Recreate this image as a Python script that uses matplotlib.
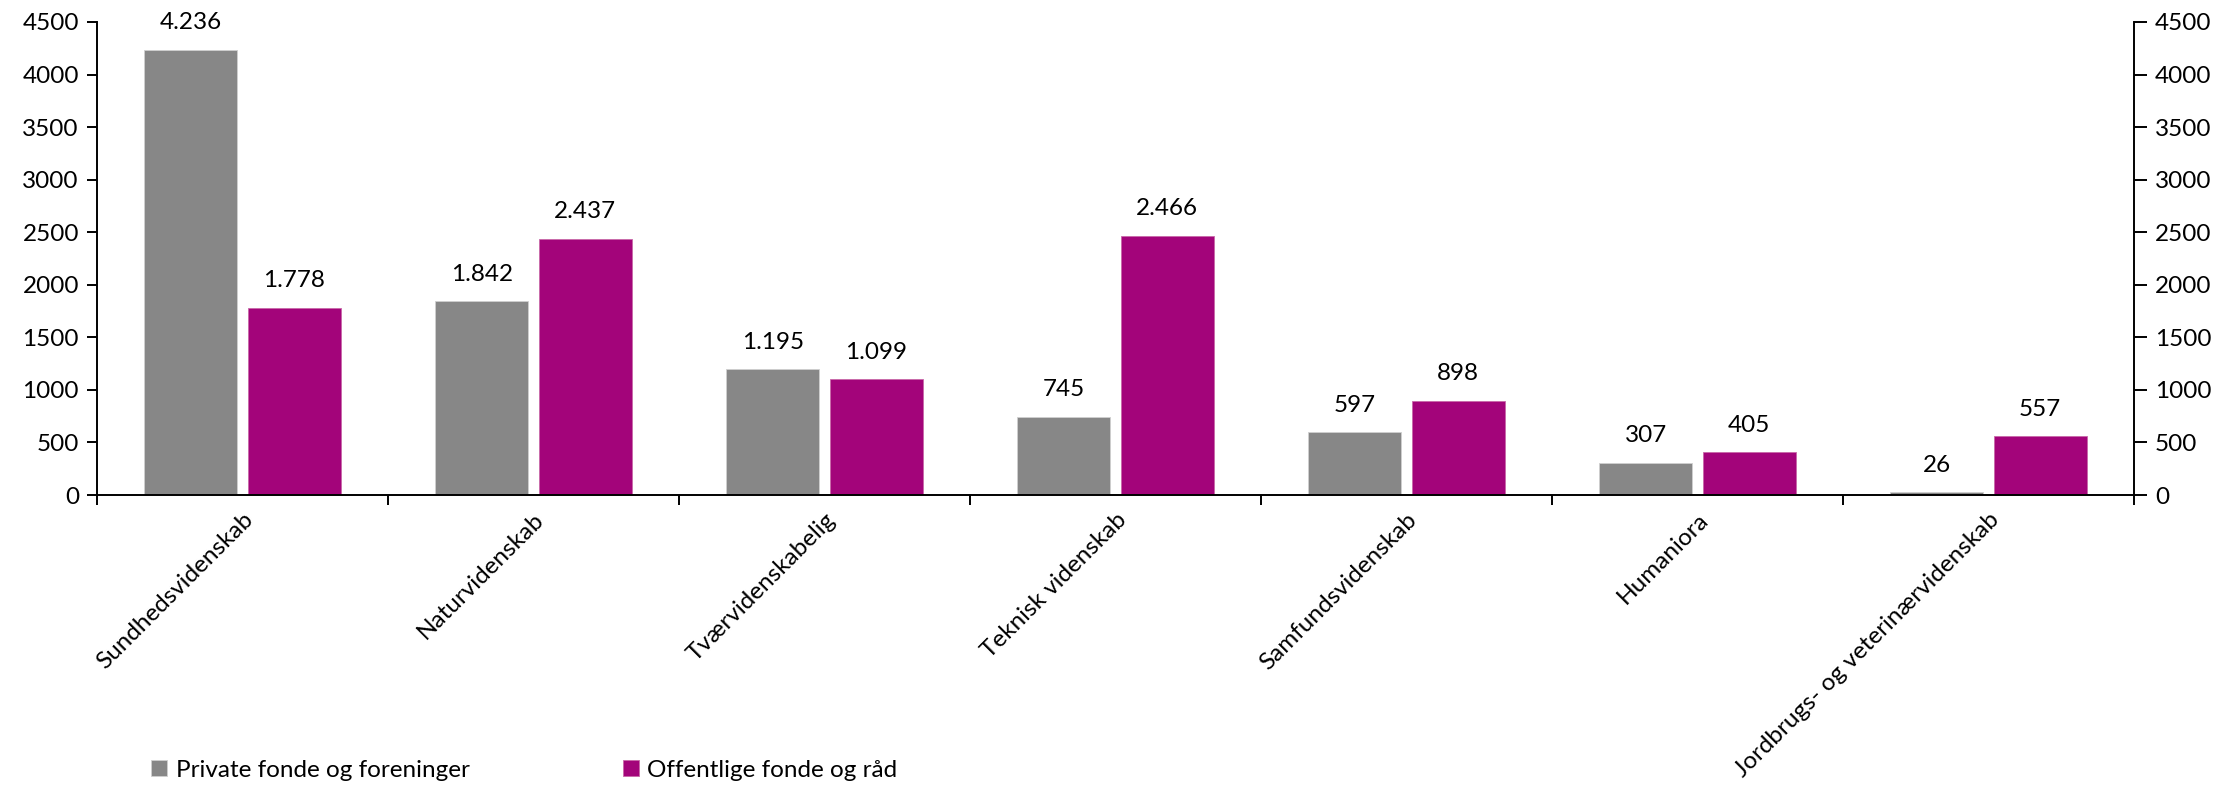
import numpy as np
import matplotlib.pyplot as plt

plt.rcParams['font.family'] = ['Lato', 'DejaVu Sans']

# Data
categories = ['Sundhedsvidenskab', 'Naturvidenskab', 'Tværvidenskabelig', 'Teknisk videnskab',
              'Samfundsvidenskab', 'Humaniora', 'Jordbrugs- og veterinærvidenskab']
private = [4236, 1842, 1195, 745, 597, 307, 26]
offentlige = [1778, 2437, 1099, 2466, 898, 405, 557]
series_names = ['Private fonde og foreninger', 'Offentlige fonde og råd']
colors = ['#878787', '#A3047A']

FS = 17.5


def fmt(v):
    # dansk tusindtalsseparator
    return f'{v:,}'.replace(',', '.')


fig = plt.figure(figsize=(22.34, 7.9), dpi=100)
ax = fig.add_axes([0.0434, 0.3734, 0.9118, 0.5988])

x = np.arange(len(categories))
w = 0.32
off = 0.178

b1 = ax.bar(x - off, private, w, color=colors[0], edgecolor='#d0d0d0', linewidth=0.6,
            label=series_names[0])
b2 = ax.bar(x + off, offentlige, w, color=colors[1], edgecolor='#c868a8', linewidth=0.6,
            label=series_names[1])

for bars, vals in [(b1, private), (b2, offentlige)]:
    for rect, v in zip(bars, vals):
        ax.annotate(fmt(v), (rect.get_x() + rect.get_width() / 2, rect.get_height()),
                    xytext=(0, 12), textcoords='offset points', ha='center', va='bottom',
                    fontsize=FS)

ax.set_xlim(-0.5, len(categories) - 0.5)
ax.set_ylim(0, 4500)
ax.set_yticks(np.arange(0, 4501, 500))
ax.tick_params(axis='y', labelsize=FS, width=1.4, length=7, direction='out', pad=6)

# kategori-ticks mellem grupperne
ax.set_xticks(np.arange(-0.5, len(categories), 1.0))
ax.set_xticklabels([])
ax.tick_params(axis='x', which='major', width=1.4, length=7, direction='out')
ax.set_xticks(x, minor=True)
ax.set_xticklabels(categories, minor=True, rotation=45, ha='right', va='top',
                   rotation_mode='anchor', fontsize=FS)
ax.tick_params(axis='x', which='minor', length=0, pad=10)

ax.spines['top'].set_visible(False)
ax.spines['right'].set_visible(False)
ax.spines['left'].set_linewidth(1.4)
ax.spines['bottom'].set_linewidth(1.4)

ax2 = ax.twinx()
ax2.set_ylim(0, 4500)
ax2.set_yticks(np.arange(0, 4501, 500))
ax2.tick_params(axis='y', labelsize=FS, width=1.4, length=9, direction='out', pad=6)
ax2.spines['top'].set_visible(False)
ax2.spines['left'].set_visible(False)
ax2.spines['bottom'].set_visible(False)
ax2.spines['right'].set_linewidth(1.4)

fig.legend(handles=[b1, b2], labels=series_names, loc='center left',
           bbox_to_anchor=(0.058, 0.025), ncol=2, frameon=False, fontsize=FS,
           handlelength=0.65, handleheight=0.65, handletextpad=0.35, columnspacing=6.3)

fig.savefig('out.png', dpi=100)
